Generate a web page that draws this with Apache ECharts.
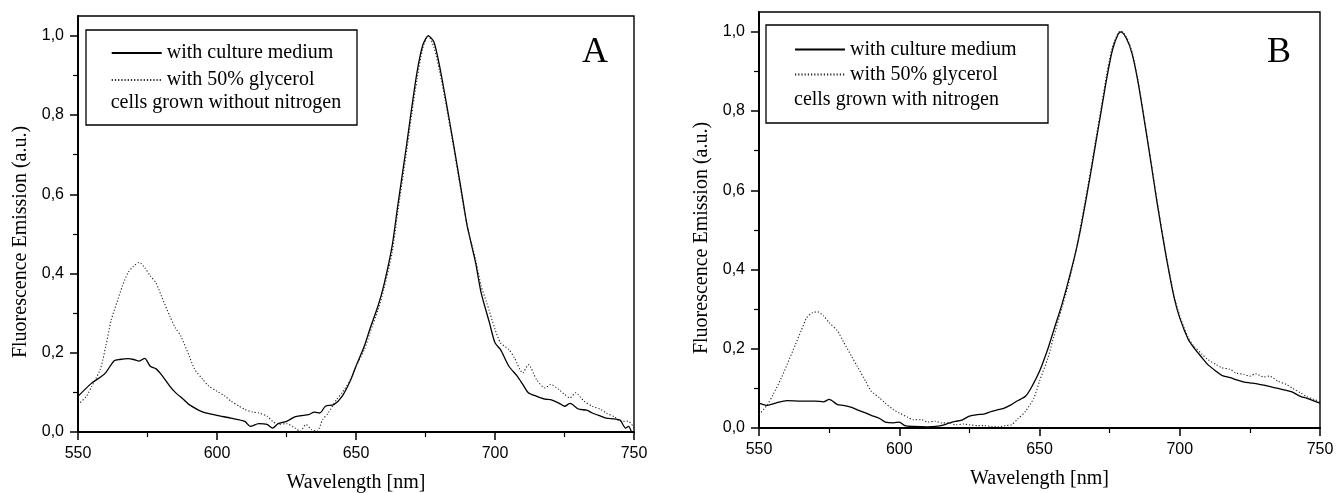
<!DOCTYPE html>
<html>
<head>
<meta charset="utf-8">
<script src="https://cdn.jsdelivr.net/npm/echarts@6/dist/echarts.min.js"></script>
<style>
html,body{margin:0;padding:0;background:#fff;}
#chart{width:1337px;height:493px;}
</style>
</head>
<body>
<div id="chart"></div>
<script>
// ---------- DATA ----------
const xTicks = [550, 600, 650, 700, 750];
const yTicks = [0, 0.2, 0.4, 0.6, 0.8, 1.0];
const yMinorTicks = [0.1, 0.3, 0.5, 0.7, 0.9];

const seriesNames = ['with culture medium', 'with 50% glycerol'];
const panelTitles = ['A', 'B'];
const panelNotes = ['cells grown without nitrogen', 'cells grown with nitrogen'];
const xTitle = 'Wavelength [nm]';
const yTitle = 'Fluorescence Emission (a.u.)';

// Panel A – culture medium (solid)
const aCultureNm  = [550,555,558,560,563,565,568,570,572,574,576,578,580,583,585,588,590,595,600,605,610,612,615,618,620,622,625,628,630,633,635,637,639,642,645,648,650,653,655,658,660,663,665,668,670,672,674,676,678,680,682,685,688,690,693,695,698,700,702,705,708,710,712,715,718,720,723,725,727,730,733,735,738,740,743,745,747,748,749];
const aCultureVal = [0.09,0.124,0.138,0.15,0.18,0.183,0.185,0.183,0.179,0.186,0.166,0.16,0.145,0.116,0.10,0.082,0.069,0.05,0.042,0.035,0.027,0.014,0.021,0.019,0.01,0.021,0.027,0.038,0.041,0.044,0.05,0.048,0.065,0.069,0.09,0.13,0.166,0.217,0.26,0.32,0.37,0.47,0.57,0.715,0.816,0.91,0.976,1.0,0.985,0.926,0.85,0.73,0.605,0.52,0.428,0.352,0.276,0.225,0.208,0.166,0.141,0.12,0.099,0.09,0.083,0.082,0.073,0.065,0.072,0.058,0.055,0.048,0.04,0.035,0.033,0.03,0.01,0.014,0.002];
// Panel A – 50% glycerol (dotted)
const aGlycerolNm  = [550,553,555,558,560,562,564,566,568,570,572,574,576,578,580,583,585,587,590,592,595,597,600,603,605,608,610,613,615,618,620,622,625,628,630,632,634,636,638,640,643,645,648,650,653,655,658,660,663,665,668,670,672,674,676,678,680,682,685,688,690,693,695,697,700,702,705,707,710,712,715,718,720,723,725,727,729,732,735,738,740,743,745,748,750];
const aGlycerolVal = [0.069,0.09,0.116,0.158,0.217,0.284,0.327,0.369,0.402,0.419,0.428,0.415,0.394,0.377,0.343,0.293,0.263,0.242,0.192,0.158,0.132,0.116,0.103,0.09,0.078,0.065,0.057,0.05,0.048,0.04,0.027,0.019,0.021,0.01,0.002,0.019,0.006,0.002,0.031,0.048,0.082,0.099,0.132,0.166,0.208,0.25,0.31,0.36,0.453,0.554,0.698,0.8,0.892,0.968,1.0,0.972,0.913,0.841,0.723,0.597,0.52,0.436,0.369,0.327,0.26,0.225,0.208,0.187,0.149,0.17,0.132,0.111,0.12,0.107,0.095,0.086,0.099,0.078,0.065,0.057,0.048,0.038,0.027,0.027,0.01];

// Panel B – culture medium (solid)
const bCultureNm  = [550,553,556,560,565,570,573,575,578,580,583,585,588,590,593,595,598,600,602,605,610,613,616,618,620,622,625,628,630,633,635,637,640,642,645,647,650,653,655,658,660,663,665,668,670,672,674,676,678,679,681,683,685,687,690,692,695,698,700,703,705,708,710,713,715,718,720,723,725,728,730,733,735,738,740,743,745,748,750];
const bCultureVal = [0.063,0.057,0.063,0.069,0.068,0.068,0.066,0.072,0.059,0.057,0.052,0.046,0.038,0.032,0.024,0.015,0.013,0.015,0.006,0.004,0.003,0.004,0.008,0.013,0.017,0.019,0.03,0.034,0.035,0.042,0.046,0.049,0.059,0.068,0.08,0.101,0.143,0.2,0.245,0.312,0.363,0.447,0.515,0.633,0.717,0.8,0.884,0.954,0.994,1.0,0.983,0.945,0.878,0.793,0.658,0.565,0.439,0.329,0.278,0.224,0.203,0.177,0.16,0.143,0.133,0.127,0.122,0.116,0.114,0.111,0.108,0.103,0.1,0.095,0.091,0.08,0.076,0.068,0.063];
// Panel B – 50% glycerol (dotted)
const bGlycerolNm  = [550,553,555,558,560,563,565,567,569,571,573,575,578,580,583,585,588,590,593,595,598,600,603,605,608,610,613,615,618,620,623,625,628,630,633,635,638,640,642,645,648,650,653,655,658,660,663,665,668,670,672,674,676,678,679,681,683,685,687,690,692,695,698,700,703,705,708,710,713,715,718,720,723,725,727,730,732,735,738,740,743,745,748,750];
const bGlycerolVal = [0.034,0.059,0.084,0.127,0.16,0.211,0.245,0.278,0.291,0.293,0.283,0.266,0.245,0.219,0.181,0.156,0.118,0.093,0.076,0.063,0.046,0.038,0.027,0.021,0.021,0.015,0.017,0.013,0.013,0.008,0.01,0.008,0.006,0.006,0.004,0.003,0.006,0.008,0.021,0.042,0.076,0.118,0.177,0.228,0.304,0.354,0.447,0.523,0.641,0.726,0.81,0.895,0.962,0.997,1.002,0.987,0.949,0.882,0.797,0.662,0.57,0.443,0.333,0.283,0.228,0.207,0.186,0.173,0.16,0.152,0.148,0.139,0.135,0.131,0.137,0.129,0.131,0.118,0.11,0.101,0.089,0.08,0.072,0.066];

// ---------- BUILD ----------
const pair = (xs, ys) => xs.map((x, i) => [x, ys[i]]);
const panels = [
  {grid:{left:78, top:16, width:556, height:416}, culture:pair(aCultureNm,aCultureVal), glycerol:pair(aGlycerolNm,aGlycerolVal),
   legendLeft:110.7, legendTop:43, legendGap:7, box:{x:86,y:30,w:271,h:95}, noteY:103, titleX:595, titleY:53},
  {grid:{left:759, top:12, width:561, height:416}, culture:pair(bCultureNm,bCultureVal), glycerol:pair(bGlycerolNm,bGlycerolVal),
   legendLeft:794, legendTop:39.5, legendGap:5, box:{x:766,y:25,w:282,h:98}, noteY:100, titleX:1279, titleY:53}
];

const sans = 'Liberation Sans';
const serif = 'Liberation Serif';
const fmt = v => v.toFixed(1).replace('.', ',');

const option = {
  backgroundColor: '#fff',
  animation: false,
  grid: [], xAxis: [], yAxis: [], series: [], legend: [], graphic: []
};

panels.forEach((p, i) => {
  option.grid.push(Object.assign({show:true, borderColor:'#000', borderWidth:1.4, backgroundColor:'transparent',
    containLabel:false, outerBoundsMode:'none'}, p.grid));
  option.xAxis.push({
    type:'value', gridIndex:i, min:xTicks[0], max:xTicks[xTicks.length-1], interval:50,
    name:xTitle, nameLocation:'middle', nameGap:41,
    nameTextStyle:{fontFamily:serif, fontSize:20, color:'#000'},
    axisLine:{show:true, onZero:false, lineStyle:{color:'#000', width:2}},
    axisTick:{show:true, inside:false, length:8, lineStyle:{color:'#000', width:1.5}},
    minorTick:{show:true, splitNumber:2, length:5, lineStyle:{color:'#000', width:1.2}},
    axisLabel:{fontFamily:sans, fontSize:16, color:'#000', margin:14},
    splitLine:{show:false}
  });
  option.yAxis.push({
    type:'value', gridIndex:i, min:0, max:1.05, position:'left',
    name:yTitle, nameLocation:'middle', nameGap:47,
    nameTextStyle:{fontFamily:serif, fontSize:20, color:'#000', padding:[0,36,0,0]},
    axisLine:{show:true, onZero:false, lineStyle:{color:'#000', width:2}},
    axisTick:{show:true, inside:false, length:8, customValues:yTicks, lineStyle:{color:'#000', width:1.5}},
    axisLabel:{fontFamily:sans, fontSize:16, color:'#000', margin:14, customValues:yTicks, formatter:fmt},
    splitLine:{show:false}
  });
  // minor ticks of the y axis
  option.yAxis.push({
    type:'value', gridIndex:i, min:0, max:1.05, position:'left',
    axisLine:{show:false},
    axisTick:{show:true, inside:false, length:5, customValues:yMinorTicks, lineStyle:{color:'#000', width:1.2}},
    axisLabel:{show:false},
    splitLine:{show:false}
  });
  option.series.push({
    name:seriesNames[0], type:'line', xAxisIndex:i, yAxisIndex:i*2, data:p.culture,
    showSymbol:false, symbol:'none', smooth:0.25, z:3,
    lineStyle:{color:'#000', width:1.3, type:'solid'}, itemStyle:{color:'#000'}
  });
  option.series.push({
    name:seriesNames[1], type:'line', xAxisIndex:i, yAxisIndex:i*2, data:p.glycerol,
    showSymbol:false, symbol:'none', smooth:0.25, z:3,
    lineStyle:{color:'#222', width:1.1, type:[1.2,2]}, itemStyle:{color:'#222'}
  });
  option.legend.push({
    show:true, orient:'vertical', left:p.legendLeft, top:p.legendTop, padding:0,
    itemWidth:50, itemHeight:14, itemGap:p.legendGap, selectedMode:false, z:10,
    itemStyle:{opacity:0},
    data:seriesNames,
    textStyle:{fontFamily:serif, fontSize:20, color:'#000', lineHeight:20}
  });
  option.graphic.push({
    type:'rect', z:5, shape:{x:p.box.x, y:p.box.y, width:p.box.w, height:p.box.h},
    style:{fill:'#fff', stroke:'#000', lineWidth:1.3}
  });
  option.graphic.push({
    type:'text', z:11, x:p.legendLeft, y:p.noteY,
    style:{text:panelNotes[i], font:'20px "Liberation Serif"', fill:'#000', verticalAlign:'middle', align:'left'}
  });
  option.graphic.push({
    type:'text', z:11, x:p.titleX, y:p.titleY,
    style:{text:panelTitles[i], font:'36px "Liberation Serif"', fill:'#000', verticalAlign:'middle', align:'center'}
  });
});

const chart = echarts.init(document.getElementById('chart'), null, {renderer:'canvas'});
chart.setOption(option);
</script>
</body>
</html>
